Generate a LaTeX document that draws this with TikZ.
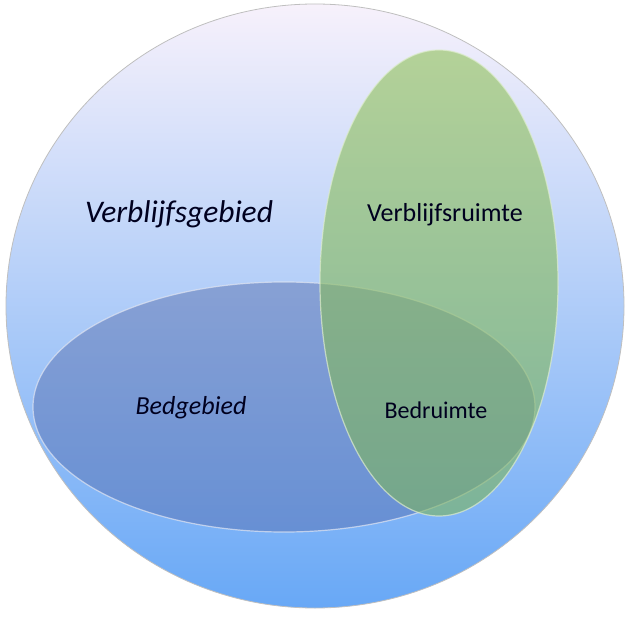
\documentclass[tikz,border=0pt]{standalone}
\usepackage{fontspec}
\setmainfont{Carlito}
\usetikzlibrary{shapes.geometric, positioning}
\definecolor{SkyTop}{RGB}{247,241,251}
\definecolor{SkyMid}{RGB}{186,222,251}
\definecolor{SkyBottom}{RGB}{104,168,246}
\definecolor{BedBlue}{RGB}{108,132,190}
\definecolor{BedBlueDark}{RGB}{92,124,192}
\definecolor{RoomGreen}{RGB}{146,194,92}
\definecolor{RoomGreenDark}{RGB}{124,180,96}
\tikzset{
    zonenode/.style={
        ellipse, inner sep=0pt, fill opacity=0.62, draw opacity=0.7, line width=1.2pt
    },
    labeltext/.style={
        font=\fontsize{26}{31}\selectfont, text=black!88!blue
    },
    biglabel/.style={
        font=\fontsize{31.5}{38}\selectfont\itshape, text=black!88!blue
    }
}
\begin{document}
\begin{tikzpicture}[x=1pt, y=-1pt]
    \useasboundingbox (0,0) rectangle (631,617);
    % outer area
    \shade[top color=SkyTop, middle color=SkyMid, bottom color=SkyBottom,
        draw=gray!50, line width=0.8pt] (315,306) ellipse [x radius=309, y radius=302];
    % bed area and living room
    \node[zonenode, minimum width=502pt, minimum height=250pt,
        top color=BedBlue, bottom color=BedBlueDark, draw=white!80!BedBlue] (bed) at (284,407) {};
    \node[zonenode, minimum width=238pt, minimum height=466pt,
        top color=RoomGreen, bottom color=RoomGreenDark, draw=white!70!RoomGreen] (room) at (439,283) {};
    % labels
    \node[biglabel] (gebied) at (179,214) {Verblijfsgebied};
    \node[labeltext] (ruimte) at (445,215) {Verblijfsruimte};
    \node[labeltext, font=\fontsize{26}{31}\selectfont\itshape] (bedgebied) at (191,408) {Bedgebied};
    \node[labeltext, font=\fontsize{24}{29}\selectfont] (bedruimte) at (436,410) {Bedruimte};
\end{tikzpicture}
\end{document}
